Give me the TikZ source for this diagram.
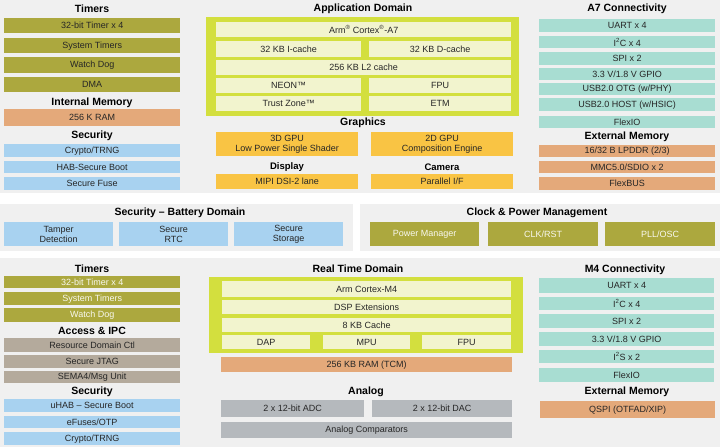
\documentclass[tikz,border=0pt]{standalone}
\usepackage{fontspec}
\setmainfont{Liberation Sans}
\definecolor{bgG}{HTML}{F0F0F0}
\definecolor{olv}{HTML}{ACA83E}
\definecolor{slm}{HTML}{E4A97A}
\definecolor{lbl}{HTML}{A8D2F0}
\definecolor{lim}{HTML}{D3DF3E}
\definecolor{pal}{HTML}{F2F4CE}
\definecolor{gld}{HTML}{F9C444}
\definecolor{tel}{HTML}{A8DDD2}
\definecolor{tau}{HTML}{B4AA9C}
\definecolor{gry}{HTML}{B5B9BD}
\definecolor{txt}{HTML}{262626}
\tikzset{
  base/.style={inner sep=0pt,align=center,text=txt,font=\fontsize{9}{9.6}\selectfont},
  olvbox/.style={base,fill=olv},
  olvw/.style={base,fill=olv,text=white!92!olv},
  slmbox/.style={base,fill=slm},
  blubox/.style={base,fill=lbl},
  palbox/.style={base,fill=pal},
  gldbox/.style={base,fill=gld},
  telbox/.style={base,fill=tel},
  taubox/.style={base,fill=tau},
  grybox/.style={base,fill=gry},
  ttl/.style={inner sep=0pt,text=black,font=\fontsize{10.5}{12}\selectfont\bfseries},
  sttl/.style={inner sep=0pt,text=black,font=\fontsize{9.5}{11}\selectfont\bfseries}
}
\newcommand\bx[7]{\node[#1,minimum width=#5pt,minimum height=#6pt,anchor=north west] (#2) at (#3,#4) {#7};}
\begin{document}
\begin{tikzpicture}[x=1pt,y=-1pt]
\useasboundingbox (0,0) rectangle (720,447);
\fill[bgG] (0,0) rectangle (720,447);
\fill[white] (0,193) rectangle (720,204);
\fill[white] (0,251) rectangle (720,258);
\fill[white] (353,193) rectangle (360,258);
% ---------- top left
\node[ttl] (tTim) at (92,9) {Timers};
\bx{olvbox}{t1}{4}{18}{176}{15}{32-bit Timer x 4}
\bx{olvbox}{t2}{4}{38}{176}{15}{System Timers}
\bx{olvbox}{t3}{4}{57}{176}{16}{Watch Dog}
\bx{olvbox}{t4}{4}{77}{176}{15}{DMA}
\node[ttl] (tIM) at (92,103) {Internal Memory};
\bx{slmbox}{m1}{4}{109}{176}{17}{256 K RAM}
\node[ttl] (tSec) at (92,136) {Security};
\bx{blubox}{s1}{4}{144}{176}{13}{Crypto/TRNG}
\bx{blubox}{s2}{4}{161}{176}{12}{HAB-Secure Boot}
\bx{blubox}{s3}{4}{177}{176}{13}{Secure Fuse}
% ---------- application domain
\node[ttl] (tApp) at (363,9) {Application Domain};
\fill[lim] (206,17) rectangle (519,116);
\bx{palbox}{a1}{216}{22}{295}{15}{Arm\textsuperscript{\textregistered} Cortex\textsuperscript{\textregistered}-A7}
\bx{palbox}{a2}{216}{41}{145}{16}{32 KB I-cache}
\bx{palbox}{a3}{369}{41}{142}{16}{32 KB D-cache}
\bx{palbox}{a4}{216}{60}{295}{15}{256 KB L2 cache}
\bx{palbox}{a5}{216}{78}{145}{15}{NEON™}
\bx{palbox}{a6}{369}{78}{142}{15}{FPU}
\bx{palbox}{a7}{216}{96}{145}{15}{Trust Zone™}
\bx{palbox}{a8}{369}{96}{142}{15}{ETM}
\node[ttl] (tGr) at (363,123) {Graphics};
\bx{gldbox}{g1}{216}{132}{142}{24}{3D GPU\\Low Power Single Shader}
\bx{gldbox}{g2}{371}{132}{142}{24}{2D GPU\\Composition Engine}
\node[sttl] (tDisp) at (287,167) {Display};
\node[sttl] (tCam) at (442,167) {Camera};
\bx{gldbox}{g3}{216}{174}{142}{15}{MIPI DSI-2 lane}
\bx{gldbox}{g4}{371}{174}{142}{15}{Parallel I/F}
% ---------- A7 connectivity
\node[ttl] (tA7) at (627,9) {A7 Connectivity};
\bx{telbox}{c1}{539}{19}{176}{13}{UART x 4}
\bx{telbox}{c2}{539}{36}{176}{12}{I\textsuperscript{2}C x 4}
\bx{telbox}{c3}{539}{52}{176}{13}{SPI x 2}
\bx{telbox}{c4}{539}{68}{176}{12}{3.3 V/1.8 V GPIO}
\bx{telbox}{c5}{539}{83}{176}{12}{USB2.0 OTG (w/PHY)}
\bx{telbox}{c6}{539}{98}{176}{13}{USB2.0 HOST (w/HSIC)}
\bx{telbox}{c7}{539}{116}{176}{12}{FlexIO}
\node[ttl] (tEM) at (627,137) {External Memory};
\bx{slmbox}{e1}{539}{145}{176}{12}{16/32 B LPDDR (2/3)}
\bx{slmbox}{e2}{539}{161}{176}{12}{MMC5.0/SDIO x 2}
\bx{slmbox}{e3}{539}{177}{176}{13}{FlexBUS}
% ---------- middle band
\node[ttl] (tSB) at (180,213) {Security – Battery Domain};
\bx{blubox}{b1}{4}{222}{109}{24}{Tamper\\Detection}
\bx{blubox}{b2}{119}{222}{109}{24}{Secure\\RTC}
\bx{blubox}{b3}{234}{222}{109}{24}{Secure\\Storage}
\node[ttl] (tCP) at (537,213) {Clock \& Power Management};
\bx{olvw}{p1}{370}{222}{109}{24}{Power Manager}
\bx{olvw}{p2}{488}{222}{110}{24}{CLK/RST}
\bx{olvw}{p3}{605}{222}{110}{24}{PLL/OSC}
% ---------- bottom left
\node[ttl] (tTim2) at (92,269) {Timers};
\bx{olvw}{u1}{4}{276}{176}{12}{32-bit Timer x 4}
\bx{olvw}{u2}{4}{292}{176}{13}{System Timers}
\bx{olvw}{u3}{4}{308}{176}{14}{Watch Dog}
\node[ttl] (tAI) at (92,331) {Access \& IPC};
\bx{taubox}{i1}{4}{338}{176}{14}{Resource Domain Ctl}
\bx{taubox}{i2}{4}{355}{176}{13}{Secure JTAG}
\bx{taubox}{i3}{4}{371}{176}{12}{SEMA4/Msg Unit}
\node[ttl] (tSec2) at (92,392) {Security};
\bx{blubox}{v1}{4}{399}{176}{13}{uHAB – Secure Boot}
\bx{blubox}{v2}{4}{416}{176}{12}{eFuses/OTP}
\bx{blubox}{v3}{4}{432}{176}{13}{Crypto/TRNG}
% ---------- real time domain
\node[ttl] (tRT) at (358,269) {Real Time Domain};
\fill[lim] (209,277) rectangle (523,353);
\bx{palbox}{r1}{222}{281}{289}{16}{Arm Cortex-M4}
\bx{palbox}{r2}{222}{300}{289}{14}{DSP Extensions}
\bx{palbox}{r3}{222}{318}{289}{14}{8 KB Cache}
\bx{palbox}{r4}{222}{335}{88}{14}{DAP}
\bx{palbox}{r5}{323}{335}{87}{14}{MPU}
\bx{palbox}{r6}{422}{335}{89}{14}{FPU}
\bx{slmbox}{r7}{221}{357}{291}{15}{256 KB RAM (TCM)}
\node[ttl] (tAn) at (366,392) {Analog};
\bx{grybox}{n1}{221}{400}{143}{17}{2 x 12-bit ADC}
\bx{grybox}{n2}{372}{400}{140}{17}{2 x 12-bit DAC}
\bx{grybox}{n3}{221}{422}{291}{16}{Analog Comparators}
% ---------- M4 connectivity
\node[ttl] (tM4) at (625,270) {M4 Connectivity};
\bx{telbox}{d1}{539}{278}{175}{15}{UART x 4}
\bx{telbox}{d2}{539}{297}{175}{13}{I\textsuperscript{2}C x 4}
\bx{telbox}{d3}{539}{314}{175}{14}{SPI x 2}
\bx{telbox}{d4}{539}{332}{175}{14}{3.3 V/1.8 V GPIO}
\bx{telbox}{d5}{539}{350}{175}{13}{I\textsuperscript{2}S x 2}
\bx{telbox}{d6}{539}{368}{175}{14}{FlexIO}
\node[ttl] (tEM2) at (627,392) {External Memory};
\bx{slmbox}{f1}{540}{401}{175}{17}{QSPI (OTFAD/XIP)}
\end{tikzpicture}
\end{document}
